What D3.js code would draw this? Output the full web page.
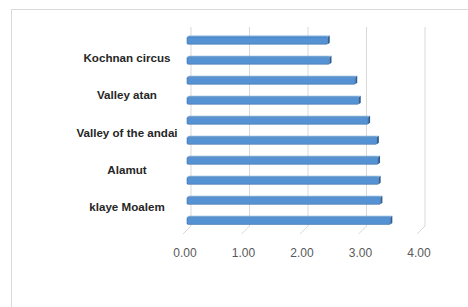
<!DOCTYPE html>
<html>
<head>
<style>
  body { margin: 0; background: #fff; }
  .tick-label { font-family: "Liberation Sans", Arial, sans-serif; font-size: 12px; fill: #595959; }
  .cat-label { font-family: "Liberation Sans", Arial, sans-serif; font-size: 11.6px; font-weight: bold; fill: #262626; }
</style>
<script src="https://cdn.jsdelivr.net/npm/d3@7"></script>
</head>
<body>
<svg width="468" height="307"></svg>
<script>
// bars listed top to bottom
var barIds = [0, 1, 2, 3, 4, 5, 6, 7, 8, 9];
var values = [2.44, 2.47, 2.91, 2.97, 3.13, 3.28, 3.30, 3.31, 3.34, 3.51];
var catLabels = ["Kochnan circus", "Valley atan", "Valley of the andai", "Alamut", "klaye Moalem"];
var ticks = [0, 1, 2, 3, 4];

var svg = d3.select("svg");

// chart frame
svg.append("path")
  .attr("d", "M11.5,307 V9.5 H468")
  .attr("fill", "none")
  .attr("stroke", "#d9d9d9");

var x = d3.scaleLinear().domain([0, 4]).range([187, 421]);
var y = d3.scaleBand().domain(barIds).range([30, 230]).paddingInner(0.57).paddingOuter(0.28);
var labelY = d3.scalePoint().domain(catLabels).range([58, 207]);

var depth = 4, floorTop = 226, floorBot = 234;

// back gridlines + floor ticks
var grid = svg.append("g");
grid.selectAll("line.g")
  .data(ticks).enter().append("line")
  .attr("x1", function(d) { return x(d) + depth; })
  .attr("x2", function(d) { return x(d) + depth; })
  .attr("y1", 27).attr("y2", floorTop)
  .attr("stroke", "#d9d9d9");
grid.selectAll("line.f")
  .data(ticks).enter().append("line")
  .attr("x1", function(d) { return x(d) + depth; })
  .attr("x2", function(d) { return x(d) + depth - 8; })
  .attr("y1", floorTop).attr("y2", floorBot)
  .attr("stroke", "#d9d9d9");

svg.selectAll("text.tick")
  .data(ticks).enter().append("text")
  .attr("class", "tick-label")
  .attr("x", function(d) { return x(d) - 2; })
  .attr("y", 257)
  .attr("text-anchor", "middle")
  .text(function(d) { return d3.format(".2f")(d); });

// bars with a little 3D look
var bars = svg.selectAll("g.bar")
  .data(barIds).enter().append("g");

var bh = y.bandwidth();
bars.append("path")   // top face
  .attr("d", function(i) {
    var y0 = y(i), x0 = x(0), x1 = x(values[i]) - 2;
    return "M" + x0 + "," + (y0 + 1.5) + " L" + (x0 + 2) + "," + y0 + " L" + (x1 + 2) + "," + y0 +
      " L" + x1 + "," + (y0 + 1.5) + " Z";
  })
  .attr("fill", "#7fb2e3");
bars.append("path")   // side face
  .attr("d", function(i) {
    var y0 = y(i), x1 = x(values[i]) - 2;
    return "M" + x1 + "," + (y0 + 1.5) + " L" + (x1 + 2) + "," + y0 + " L" + (x1 + 2) + "," + (y0 + bh - 1.5) +
      " L" + x1 + "," + (y0 + bh) + " Z";
  })
  .attr("fill", "#2f5f92");
bars.append("rect")   // front face
  .attr("x", x(0))
  .attr("y", function(i) { return y(i) + 1.5; })
  .attr("width", function(i) { return x(values[i]) - 2 - x(0); })
  .attr("height", bh - 1.5)
  .attr("rx", 1.2)
  .attr("fill", "#5592d4")
  .attr("stroke", "#3f70a6")
  .attr("stroke-width", 0.6);

svg.selectAll("text.cat")
  .data(catLabels).enter().append("text")
  .attr("class", "cat-label")
  .attr("x", 127)
  .attr("y", function(d) { return labelY(d) + 4; })
  .attr("text-anchor", "middle")
  .text(function(d) { return d; });
</script>
</body>
</html>
